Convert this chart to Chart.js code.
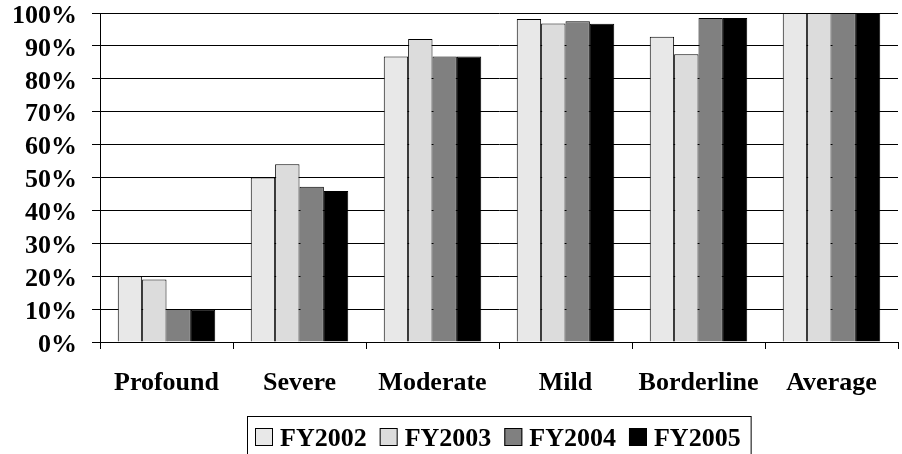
<!DOCTYPE html>
<html>
<head>
<meta charset="utf-8">
<script src="https://cdn.jsdelivr.net/npm/chart.js@4/dist/chart.umd.min.js"></script>
<style>
  html, body { margin: 0; padding: 0; background: #fff; }
  #wrap { width: 902px; height: 454px; }
</style>
</head>
<body>
<div id="wrap"><canvas id="c" width="902" height="454"></canvas></div>
<script>
// Share of each group, by fiscal year
const categories = ['Profound', 'Severe', 'Moderate', 'Mild', 'Borderline', 'Average'];
const seriesNames = ['FY2002', 'FY2003', 'FY2004', 'FY2005'];
const fy2002 = [20, 50, 86.8, 98.2, 92.8, 100];
const fy2003 = [19, 54, 92.1, 96.8, 87.5, 100];
const fy2004 = [10, 47.2, 86.8, 97.5, 98.5, 100];
const fy2005 = [9.8, 45.9, 86.8, 96.7, 98.5, 100];
const yTicks = [0, 10, 20, 30, 40, 50, 60, 70, 80, 90, 100];

const seriesValues = [fy2002, fy2003, fy2004, fy2005];
const seriesColors = ['#e8e8e8', '#dcdcdc', '#808080', '#000000'];
const FONT_FAMILY = '"Liberation Serif", "Times New Roman", serif';

// Boxed legend centred under the plot area
const boxedLegend = {
  id: 'boxedLegend',
  afterDraw(chart) {
    const ctx = chart.ctx;
    const area = chart.chartArea;
    const sq = 18, gapText = 7, gapItem = 13, padL = 8, padR = 10;
    ctx.save();
    ctx.font = 'bold 26px ' + FONT_FAMILY;
    const items = chart.data.datasets.map(ds => ({
      label: ds.label,
      color: ds.backgroundColor,
      w: ctx.measureText(ds.label).width
    }));
    let total = padL + padR + gapItem * (items.length - 1);
    items.forEach(it => { total += sq + gapText + it.w; });
    const left = Math.round((area.left + area.right) / 2 - total / 2);
    const top = chart.height - 38;

    ctx.strokeStyle = '#000';
    ctx.lineWidth = 1;
    ctx.strokeRect(left + 0.5, top + 0.5, total, 60);

    let x = left + padL;
    ctx.textBaseline = 'alphabetic';
    ctx.textAlign = 'left';
    items.forEach(it => {
      ctx.fillStyle = it.color;
      ctx.fillRect(x, top + 12, sq, sq);
      ctx.strokeStyle = '#000';
      ctx.strokeRect(x + 0.5, top + 12.5, sq - 1, sq - 1);
      ctx.fillStyle = '#000';
      ctx.fillText(it.label, x + sq + gapText, top + 30);
      x += sq + gapText + it.w + gapItem;
    });
    ctx.restore();
  }
};

new Chart(document.getElementById('c'), {
  type: 'bar',
  data: {
    labels: categories,
    datasets: seriesNames.map((name, i) => ({
      label: name,
      data: seriesValues[i],
      backgroundColor: seriesColors[i],
      borderColor: '#000',
      borderWidth: 1,
      barPercentage: 1.0,
      categoryPercentage: 0.733
    }))
  },
  options: {
    responsive: false,
    animation: false,
    devicePixelRatio: 1,
    layout: { padding: { top: 13, left: 10, right: 4, bottom: 55 } },
    plugins: {
      legend: { display: false },
      tooltip: { enabled: false }
    },
    scales: {
      x: {
        offset: true,
        grid: { display: true, drawOnChartArea: false, drawTicks: true, tickLength: 7, color: '#000', lineWidth: 1 },
        border: { display: true, color: '#000', width: 1 },
        ticks: {
          color: '#000',
          padding: 19,
          maxRotation: 0,
          autoSkip: false,
          font: { family: FONT_FAMILY, size: 26, weight: 'bold', lineHeight: 1.2 }
        },
        afterFit(scale) { scale.height = 57; scale.paddingLeft = 0; scale.paddingRight = 0; }
      },
      y: {
        min: 0,
        max: 100,
        afterBuildTicks(scale) { scale.ticks = yTicks.map(v => ({ value: v })); },
        grid: { color: '#000', lineWidth: 1, tickLength: 8, drawTicks: true },
        border: { display: true, color: '#000', width: 1 },
        ticks: {
          color: '#000',
          padding: 15,
          labelOffset: 3,
          callback: v => v + '%',
          font: { family: FONT_FAMILY, size: 26, weight: 'bold', lineHeight: 1.0 }
        },
        afterFit(scale) { scale.width = 90; scale.paddingTop = 0; scale.paddingBottom = 0; }
      }
    }
  },
  plugins: [boxedLegend]
});
</script>
</body>
</html>
